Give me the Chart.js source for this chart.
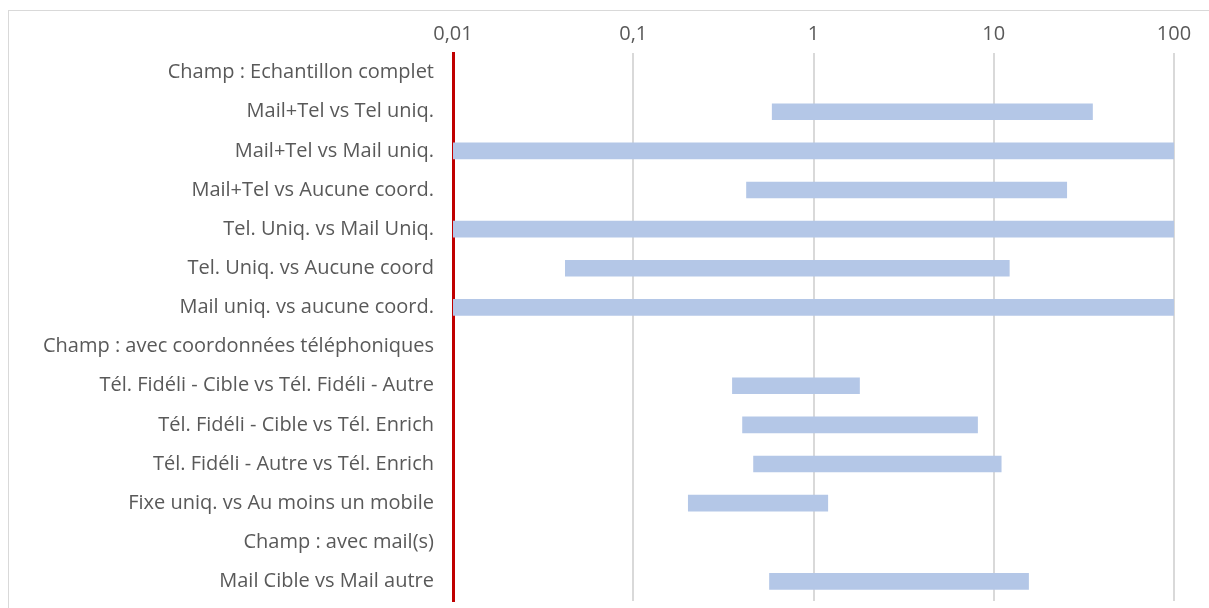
<!DOCTYPE html>
<html>
<head>
<meta charset="utf-8">
<script src="https://cdn.jsdelivr.net/npm/chart.js@4"></script>
<style>
  html, body { margin: 0; padding: 0; background: #fff; }
  #wrap { position: relative; width: 1209px; height: 608px; overflow: hidden; }
  #frame { position: absolute; left: 8px; top: 10px; width: 1240px; height: 640px; border: 1px solid #d9d9d9; }
  canvas { position: absolute; left: 0; top: 0; }
</style>
</head>
<body>
<div id="wrap">
  <div id="frame"></div>
  <canvas id="chart" width="1209" height="608"></canvas>
</div>
<script>
// comparisons (rows, top to bottom)
const categories = [
  'Champ : Echantillon complet',
  'Mail+Tel vs Tel uniq.',
  'Mail+Tel vs Mail uniq.',
  'Mail+Tel vs Aucune coord.',
  'Tel. Uniq. vs Mail Uniq.',
  'Tel. Uniq. vs Aucune coord',
  'Mail uniq. vs aucune coord.',
  'Champ : avec coordonnées téléphoniques',
  'Tél. Fidéli - Cible vs Tél. Fidéli - Autre',
  'Tél. Fidéli - Cible vs Tél. Enrich',
  'Tél. Fidéli - Autre vs Tél. Enrich',
  'Fixe uniq. vs Au moins un mobile',
  'Champ : avec mail(s)',
  'Mail Cible vs Mail autre',
];
// interval bounds (null = header row, no bar)
const lowValues  = [null, 0.59, 0.01, 0.425, 0.01, 0.042, 0.01, null, 0.355, 0.404, 0.465, 0.202, null, 0.57];
const highValues = [null, 35.3, 100, 25.4, 100, 12.2, 100, null, 1.8, 8.13, 11.0, 1.2, null, 15.6];

const tickValues = [0.01, 0.1, 1, 10, 100];
const tickLabels = ['0,01', '0,1', '1', '10', '100'];

const textColor = '#595959';
const font = { family: 'Open Sans', size: 20 };

new Chart(document.getElementById('chart'), {
  type: 'bar',
  data: {
    labels: categories,
    datasets: [{
      data: lowValues.map((lo, i) => lo == null ? null : [lo, highValues[i]]),
      backgroundColor: '#b4c7e7',
      borderWidth: 0,
      barThickness: 16,
    }],
  },
  options: {
    indexAxis: 'y',
    responsive: false,
    animation: false,
    layout: { padding: { left: 0, right: 35, top: 0, bottom: 7 } },
    plugins: { legend: { display: false }, tooltip: { enabled: false } },
    scales: {
      x: {
        type: 'logarithmic',
        position: 'top',
        min: 0.01,
        max: 100,
        afterBuildTicks: s => { s.ticks = tickValues.map(v => ({ value: v })); },
        afterFit: s => { s.height = 53; s.paddingLeft = 0; s.paddingRight = 0; },
        grid: { color: '#d9d9d9', lineWidth: 2, drawTicks: false },
        border: { display: false },
        ticks: {
          color: textColor, font, padding: 7,
          callback: v => tickLabels[tickValues.indexOf(v)] ?? '',
        },
      },
      y: {
        afterFit: s => { s.width = 453; s.paddingTop = 0; s.paddingBottom = 0; },
        grid: { display: false, drawTicks: false },
        border: { color: '#c00000', width: 3 },
        ticks: { color: textColor, font, padding: 19, autoSkip: false },
      },
    },
  },
});
</script>
</body>
</html>
